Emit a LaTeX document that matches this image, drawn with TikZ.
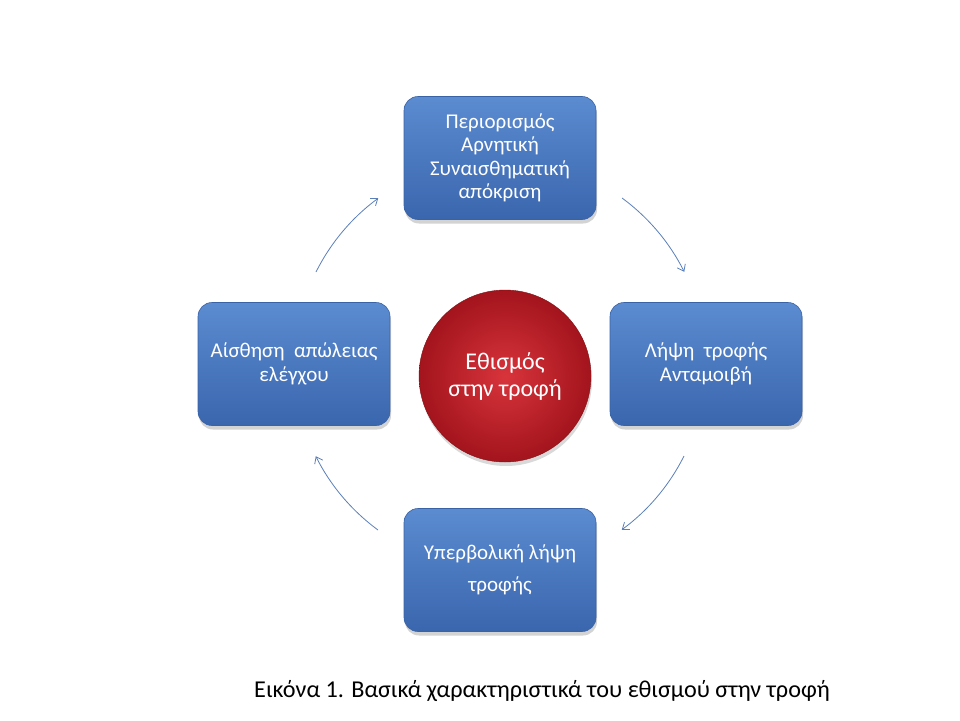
\documentclass[tikz,border=0pt]{standalone}
\usepackage{fontspec}
\setmainfont{Carlito}
\usetikzlibrary{arrows.meta,shadows,shadings}
\definecolor{boxtop}{HTML}{5B8BD0}
\definecolor{boxbot}{HTML}{3A66AE}
\definecolor{boxedge}{HTML}{3A63A6}
\definecolor{arrowc}{HTML}{5B7FB8}
\definecolor{redin}{HTML}{D8343C}
\definecolor{redout}{HTML}{A3141C}
\tikzset{
  x=1pt, y=-1pt,
  bluebox/.style={draw=boxedge, line width=0.6pt, rounded corners=14pt,
    top color=boxtop, bottom color=boxbot, minimum width=192pt, minimum height=123pt,
    text=white, align=center, font=\fontsize{21}{23.5}\selectfont,
    drop shadow={opacity=0.35, shadow xshift=1pt, shadow yshift=-4pt}},
  hubcircle/.style={circle, minimum size=172pt, inner color=redin, outer color=redout,
    draw=redout!80!black, line width=0.4pt, text=white, align=center,
    font=\fontsize{24}{27}\selectfont,
    drop shadow={opacity=0.3, shadow xshift=1pt, shadow yshift=-4pt}},
  cyclearrow/.style={draw=arrowc, line width=0.8pt, -{Straight Barb[length=6pt,width=9pt]}},
  captiontext/.style={font=\fontsize{24.2}{28}\selectfont, text=black}
}
\begin{document}
\begin{tikzpicture}
\useasboundingbox (0,0) rectangle (960,720);
\node[bluebox] (top) at (500,158) {Περιορισμός\\Αρνητική\\Συναισθηματική\\απόκριση};
\node[bluebox] (left) at (294,364) {Αίσθηση\ \ απώλειας\\ελέγχου};
\node[bluebox] (right) at (706,364) {Λήψη\ \ τροφής\\Ανταμοιβή};
\node[bluebox] (bottom) at (500,570) {Υπερβολική λήψη\\[8.5pt]τροφής};
\node[hubcircle] (hub) at (505,376) {Εθισμός\\στην τροφή};
\coordinate (a1) at (316,272);
\coordinate (a2) at (622,198);
\coordinate (a3) at (684,456);
\coordinate (a4) at (378,530);
\draw[cyclearrow] (a1) arc[start angle=-153.4, end angle=-126.3, radius=206];
\draw[cyclearrow] (a2) arc[start angle=-53.7, end angle=-26.6, radius=206];
\draw[cyclearrow] (a3) arc[start angle=26.6, end angle=53.7, radius=206];
\draw[cyclearrow] (a4) arc[start angle=126.3, end angle=153.4, radius=206];
\node[captiontext, anchor=base] (cap) at (542,697) {Εικόνα 1. Βασικά χαρακτηριστικά του εθισμού στην τροφή};
\end{tikzpicture}
\end{document}
